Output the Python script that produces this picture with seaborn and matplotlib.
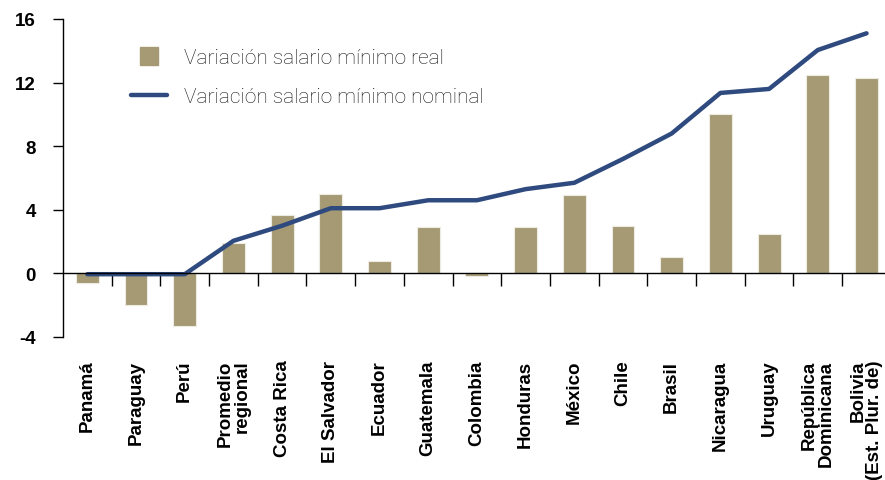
import numpy as np
import seaborn as sns
import matplotlib.pyplot as plt
from matplotlib.lines import Line2D
from matplotlib.ticker import FixedLocator

paises = ['Panamá', 'Paraguay', 'Perú', 'Promedio\nregional', 'Costa Rica',
          'El Salvador', 'Ecuador', 'Guatemala', 'Colombia', 'Honduras',
          'México', 'Chile', 'Brasil', 'Nicaragua', 'Uruguay',
          'República\nDominicana', 'Bolivia\n(Est. Plur. de)']
real = [-0.6, -2.0, -3.3, 1.9, 3.7, 5.0, 0.8, 2.9, -0.15, 2.9,
        4.9, 3.0, 1.05, 10.0, 2.5, 12.5, 12.3]
nominal = [-0.05, -0.05, -0.05, 2.05, 3.0, 4.1, 4.1, 4.6, 4.6, 5.3,
           5.7, 7.2, 8.8, 11.35, 11.6, 14.05, 15.1]
yticks = [-4, 0, 4, 8, 12, 16]

c_real = '#A69A74'
c_nom = '#2F4A7E'

sns.set_style('white')
plt.rcParams['font.family'] = ['Liberation Sans', 'DejaVu Sans']

fig = plt.figure(figsize=(8.85, 4.81), dpi=100)
ax = fig.add_axes([63 / 885, 1 - 338 / 481, 1 - 63 / 885, (338 - 20) / 481])

sns.barplot(x=paises, y=real, color=c_real, saturation=1, width=0.47,
            edgecolor='#EEEBE2', linewidth=0.8, ax=ax)
sns.lineplot(x=np.arange(len(paises)), y=nominal, color=c_nom, lw=3.2,
             sort=False, ax=ax)

ax.set_xlim(-0.5, 16.38)
ax.set_ylim(-4, 16)
ax.set_yticks(yticks)
ax.set_yticklabels([str(v) for v in yticks], fontweight='bold', fontsize=13.5)

for s in ['top', 'right']:
    ax.spines[s].set_visible(False)
ax.spines['bottom'].set_position(('data', 0))
ax.spines['left'].set_color('black')
ax.spines['bottom'].set_color('black')
ax.spines['left'].set_linewidth(1)
ax.spines['bottom'].set_linewidth(1)

ax.xaxis.set_minor_locator(FixedLocator(np.arange(len(paises) - 1) + 0.5))
ax.tick_params(axis='x', which='major', length=0, pad=62, labelcolor='black')
ax.tick_params(axis='x', which='minor', length=9.5, width=1, color='black',
               direction='out', bottom=True)
ax.tick_params(axis='y', length=7, width=1, color='black', direction='out',
               left=True, pad=12.5, labelcolor='black')
ax.set_xticks(np.arange(len(paises)))
ax.set_xticklabels(paises, rotation=90, fontweight='bold', fontsize=13.5,
                   family=['Liberation Sans Narrow', 'Liberation Sans'],
                   multialignment='right', linespacing=1.0)

handles = [Line2D([], [], marker='s', linestyle='none', markersize=13.5,
                  color=c_real),
           Line2D([], [], color=c_nom, lw=3.2)]
ax.legend(handles, ['Variación salario mínimo real',
                    'Variación salario mínimo nominal'],
          loc='upper left', bbox_to_anchor=(131 / 885, 1 - 49 / 481),
          bbox_transform=fig.transFigure, frameon=False, borderpad=0,
          borderaxespad=0, handlelength=1.75, handletextpad=0.8,
          labelspacing=0.95,
          prop={'family': 'Roboto', 'weight': 'light', 'size': 15},
          labelcolor='#111111')

fig.savefig('out.png', dpi=100)
